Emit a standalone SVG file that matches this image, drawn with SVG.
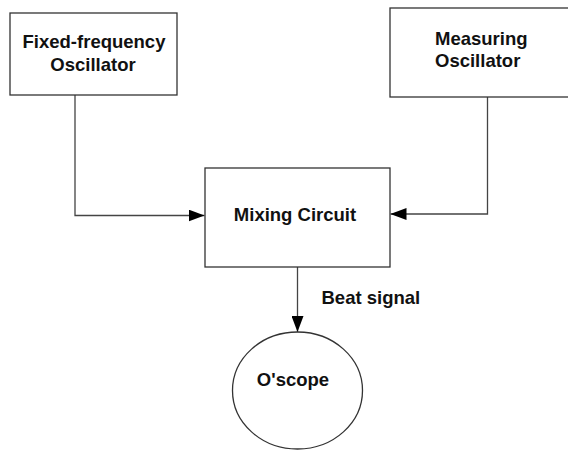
<svg xmlns="http://www.w3.org/2000/svg" width="568" height="450" viewBox="0 0 568 450">
<style>
.box{fill:#fff;stroke:#333;stroke-width:1.3}
.t{font-family:"Liberation Sans",Arial,sans-serif;font-weight:bold;font-size:18.5px;fill:#111}
.c{text-anchor:middle}
.ln{fill:none;stroke:#444;stroke-width:1.3}
</style>
<defs>
<marker id="ah" markerWidth="16" markerHeight="12" refX="16" refY="6" orient="auto" markerUnits="userSpaceOnUse">
<path d="M0,0 L16,6 L0,12 Z" fill="#000"/>
</marker>
</defs>
<rect width="568" height="450" fill="#fff"/>
<g id="connectors">
<path class="ln" d="M75,95 V215.5 H204.5" marker-end="url(#ah)"/>
<path class="ln" d="M487.5,97 V214 H390.5" marker-end="url(#ah)"/>
<path class="ln" d="M297.5,267 V332" marker-end="url(#ah)"/>
</g>
<g id="fixed">
<rect class="box" x="10" y="13" width="167" height="82"/>
<text class="t c" x="94" y="48">Fixed-frequency</text>
<text class="t c" x="93" y="71">Oscillator</text>
</g>
<g id="measuring">
<rect class="box" x="390" y="8" width="190" height="89"/>
<text class="t" x="435" y="45">Measuring</text>
<text class="t" x="435" y="67">Oscillator</text>
</g>
<g id="mixing">
<rect class="box" x="205" y="168" width="185" height="99"/>
<text class="t c" x="295" y="220.5">Mixing Circuit</text>
</g>
<g id="beat-label">
<text class="t" x="321.5" y="304">Beat signal</text>
</g>
<g id="oscope">
<ellipse class="box" cx="297.5" cy="390.5" rx="65" ry="58.5"/>
<text class="t c" x="293" y="386">O'scope</text>
</g>
</svg>
